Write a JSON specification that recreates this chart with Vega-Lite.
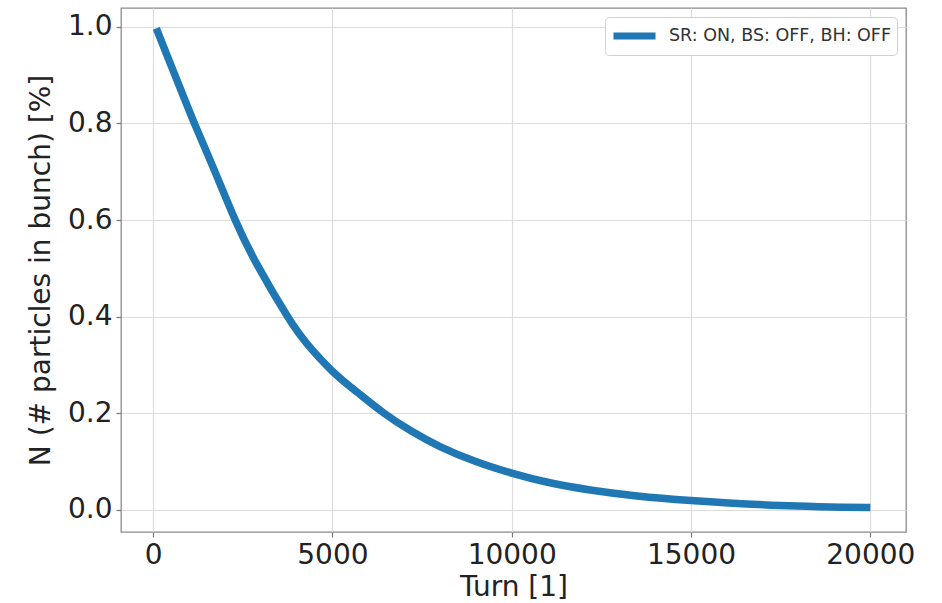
{
  "$schema": "https://vega.github.io/schema/vega-lite/v6.json",
  "width": 785,
  "height": 524,
  "autosize": {"type": "none"},
  "padding": {"left": 121, "top": 8, "right": 36, "bottom": 71},
  "background": "white",
  "config": {
    "font": "DejaVu Sans",
    "view": {"stroke": "#8a8a8a", "strokeWidth": 1.3},
    "axis": {
      "labelFont": "DejaVu Sans",
      "titleFont": "DejaVu Sans",
      "labelFontSize": 28,
      "titleFontSize": 28,
      "titleFontWeight": "normal",
      "labelColor": "#222222",
      "titleColor": "#222222",
      "domain": false,
      "grid": true,
      "gridColor": "#dcdcdc",
      "gridWidth": 1.2,
      "tickColor": "#777777",
      "tickSize": 5,
      "tickWidth": 1.2,
      "labelPadding": 4
    }
  },
  "data": {
    "values": [
      {"turn": 90, "n": 0.997, "series": "SR: ON, BS: OFF, BH: OFF"},
      {"turn": 500, "n": 0.92, "series": "SR: ON, BS: OFF, BH: OFF"},
      {"turn": 880, "n": 0.85, "series": "SR: ON, BS: OFF, BH: OFF"},
      {"turn": 1176, "n": 0.796, "series": "SR: ON, BS: OFF, BH: OFF"},
      {"turn": 1669, "n": 0.71, "series": "SR: ON, BS: OFF, BH: OFF"},
      {"turn": 2290, "n": 0.6, "series": "SR: ON, BS: OFF, BH: OFF"},
      {"turn": 2920, "n": 0.505, "series": "SR: ON, BS: OFF, BH: OFF"},
      {"turn": 3750, "n": 0.4, "series": "SR: ON, BS: OFF, BH: OFF"},
      {"turn": 4300, "n": 0.343, "series": "SR: ON, BS: OFF, BH: OFF"},
      {"turn": 5000, "n": 0.287, "series": "SR: ON, BS: OFF, BH: OFF"},
      {"turn": 5700, "n": 0.243, "series": "SR: ON, BS: OFF, BH: OFF"},
      {"turn": 6442, "n": 0.2, "series": "SR: ON, BS: OFF, BH: OFF"},
      {"turn": 7200, "n": 0.163, "series": "SR: ON, BS: OFF, BH: OFF"},
      {"turn": 8000, "n": 0.131, "series": "SR: ON, BS: OFF, BH: OFF"},
      {"turn": 9000, "n": 0.1, "series": "SR: ON, BS: OFF, BH: OFF"},
      {"turn": 10000, "n": 0.076, "series": "SR: ON, BS: OFF, BH: OFF"},
      {"turn": 11000, "n": 0.057, "series": "SR: ON, BS: OFF, BH: OFF"},
      {"turn": 12190, "n": 0.041, "series": "SR: ON, BS: OFF, BH: OFF"},
      {"turn": 13500, "n": 0.0285, "series": "SR: ON, BS: OFF, BH: OFF"},
      {"turn": 15000, "n": 0.019, "series": "SR: ON, BS: OFF, BH: OFF"},
      {"turn": 17480, "n": 0.0088, "series": "SR: ON, BS: OFF, BH: OFF"},
      {"turn": 20000, "n": 0.0045, "series": "SR: ON, BS: OFF, BH: OFF"}
    ]
  },
  "mark": {"type": "line", "strokeWidth": 7.5, "interpolate": "natural", "strokeCap": "butt", "clip": true},
  "encoding": {
    "x": {
      "field": "turn",
      "type": "quantitative",
      "scale": {"domain": [-895, 20995], "nice": false, "zero": false},
      "axis": {"values": [0, 5000, 10000, 15000, 20000], "format": "d", "title": "Turn [1]", "titlePadding": 4}
    },
    "y": {
      "field": "n",
      "type": "quantitative",
      "scale": {"domain": [-0.046, 1.039], "nice": false, "zero": false},
      "axis": {"values": [0, 0.2, 0.4, 0.6, 0.8, 1.0], "format": ".1f", "title": "N (# particles in bunch) [%]", "titlePadding": 12}
    },
    "color": {
      "field": "series",
      "type": "nominal",
      "scale": {"range": ["#1f77b4"]},
      "legend": {
        "title": null,
        "orient": "top-right",
        "offset": 9,
        "fillColor": "white",
        "strokeColor": "#d0d0d0",
        "cornerRadius": 4,
        "padding": 5,
        "symbolType": "M-1,0H3",
        "symbolStrokeWidth": 7,
        "symbolSize": 441,
        "symbolOffset": 0,
        "labelFont": "DejaVu Sans",
        "labelFontSize": 17.5,
        "labelColor": "#333333",
        "labelOffset": 31,
        "labelLimit": 0
      }
    }
  }
}
